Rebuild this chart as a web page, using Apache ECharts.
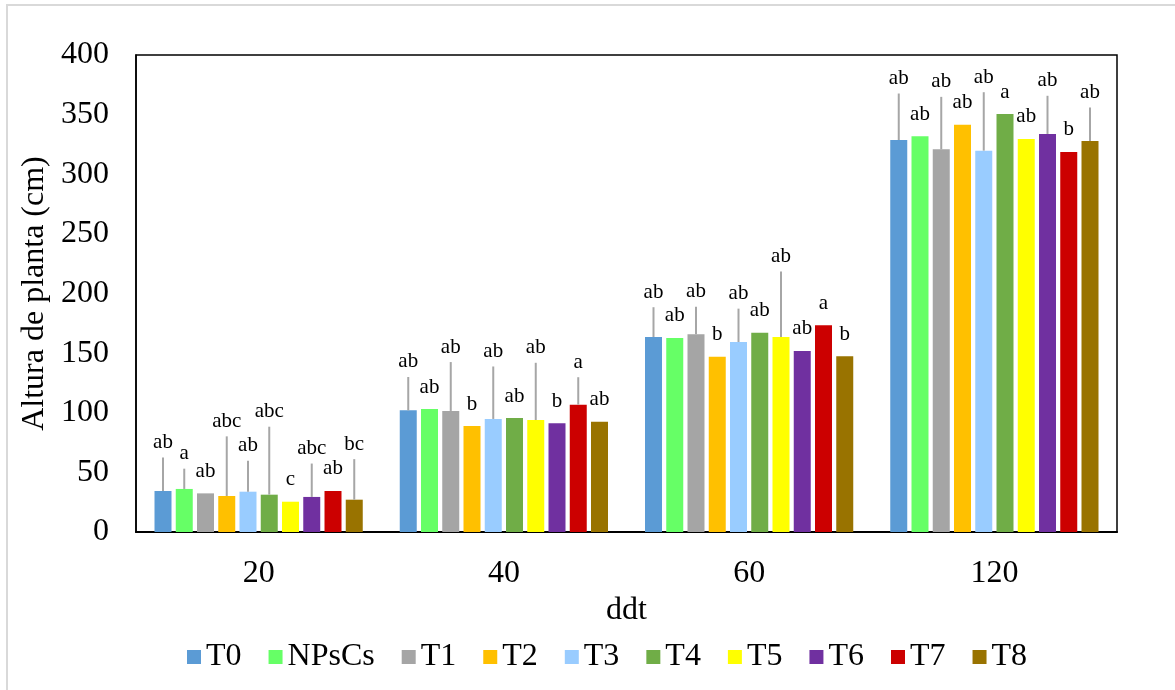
<!DOCTYPE html>
<html>
<head>
<meta charset="utf-8">
<script src="https://cdn.jsdelivr.net/npm/echarts@6/dist/echarts.min.js"></script>
<style>
  html, body { margin: 0; padding: 0; background: #fff; }
  #chart { width: 1175px; height: 690px; }
</style>
</head>
<body>
<div id="chart"></div>
<script>
// ddt categories
var categories = ['20', '40', '60', '120'];
var names = ['T0', 'NPsCs', 'T1', 'T2', 'T3', 'T4', 'T5', 'T6', 'T7', 'T8'];
var colors = ['#5B9BD5', '#66FF66', '#A5A5A5', '#FFC000', '#99CCFF', '#70AD47', '#FFFF00', '#7030A0', '#CC0000', '#997300'];

// plant height means (cm)
var T0    = [34.4, 102.0, 163.5, 328.7];
var NPsCs = [36.1, 103.1, 162.7, 331.8];
var T1    = [32.4, 101.5, 165.8, 320.9];
var T2    = [30.2, 88.9, 147.0, 341.6];
var T3    = [33.8, 94.8, 159.3, 319.8];
var T4    = [31.3, 95.6, 167.1, 350.5];
var T5    = [25.4, 93.9, 163.5, 329.6];
var T6    = [29.4, 91.1, 151.8, 333.8];
var T7    = [34.4, 106.8, 173.3, 318.7];
var T8    = [27.1, 92.5, 147.3, 327.9];

// upper error bar length
var errT0    = [28, 28, 25, 39];
var errNPsCs = [17, 0, 0, 0];
var errT1    = [0, 41, 23, 44];
var errT2    = [50, 0, 0, 0];
var errT3    = [26, 44, 28, 49];
var errT4    = [57, 0, 0, 0];
var errT5    = [0, 48, 55, 0];
var errT6    = [28, 0, 0, 32];
var errT7    = [0, 23, 0, 0];
var errT8    = [34, 0, 0, 28];

// significance letters
var sigT0    = ['ab', 'ab', 'ab', 'ab'];
var sigNPsCs = ['a', 'ab', 'ab', 'ab'];
var sigT1    = ['ab', 'ab', 'ab', 'ab'];
var sigT2    = ['abc', 'b', 'b', 'ab'];
var sigT3    = ['ab', 'ab', 'ab', 'ab'];
var sigT4    = ['abc', 'ab', 'ab', 'a'];
var sigT5    = ['c', 'ab', 'ab', 'ab'];
var sigT6    = ['abc', 'b', 'ab', 'ab'];
var sigT7    = ['ab', 'a', 'a', 'b'];
var sigT8    = ['bc', 'ab', 'b', 'ab'];

var yTicks = { min: 0, max: 400, interval: 50 };

var means = [T0, NPsCs, T1, T2, T3, T4, T5, T6, T7, T8];
var errs = [errT0, errNPsCs, errT1, errT2, errT3, errT4, errT5, errT6, errT7, errT8];
var sigs = [sigT0, sigNPsCs, sigT1, sigT2, sigT3, sigT4, sigT5, sigT6, sigT7, sigT8];

var FONT = 'Liberation Serif';
var barW = 17;
var barGapRatio = 0.25;
var period = barW * (1 + barGapRatio);

var series = [];
names.forEach(function (n, i) {
  series.push({
    name: n,
    type: 'bar',
    barWidth: barW,
    barGap: '25%',
    itemStyle: { color: colors[i] },
    data: means[i]
  });
});

names.forEach(function (n, i) {
  var offset = (i - (names.length - 1) / 2) * period;
  series.push({
    name: 'err_' + n,
    type: 'custom',
    z: 5,
    silent: true,
    data: means[i].map(function (v, k) { return [k, v, errs[i][k]]; }),
    renderItem: function (params, api) {
      var k = api.value(0), m = api.value(1), e = api.value(2);
      var base = api.coord([k, m]);
      var top = api.coord([k, m + e]);
      var x = base[0] + offset;
      var children = [];
      if (e > 0) {
        children.push({
          type: 'line',
          shape: { x1: x, y1: base[1], x2: x, y2: top[1] },
          style: { stroke: '#A6A6A6', lineWidth: 2 }
        });
      }
      var ly = e > 0 ? top[1] - 15 : base[1] - 22;
      children.push({
        type: 'text',
        style: {
          x: x, y: ly,
          text: sigs[i][k],
          fill: '#000',
          font: '21px "' + FONT + '"',
          align: 'center',
          verticalAlign: 'middle'
        }
      });
      return { type: 'group', children: children };
    }
  });
});

var chart = echarts.init(document.getElementById('chart'));
chart.setOption({
  animation: false,
  backgroundColor: '#fff',
  textStyle: { fontFamily: FONT },
  graphic: [{
    type: 'rect',
    shape: { x: 7, y: 5, width: 1200, height: 720 },
    style: { fill: 'none', stroke: '#D9D9D9', lineWidth: 2 },
    silent: true
  }],
  grid: {
    left: 136, right: 58, top: 55, bottom: 158,
    show: true, borderColor: '#000', borderWidth: 1.5
  },
  legend: {
    data: names,
    bottom: 12,
    left: 182,
    itemWidth: 14,
    itemHeight: 14,
    itemGap: 27,
    icon: 'rect',
    textStyle: { fontFamily: FONT, fontSize: 32, color: '#000' }
  },
  xAxis: {
    type: 'category',
    data: categories,
    name: 'ddt',
    nameLocation: 'middle',
    nameGap: 63,
    nameTextStyle: { fontFamily: FONT, fontSize: 32, color: '#000' },
    axisLine: { lineStyle: { color: '#000', width: 2 } },
    axisTick: { show: false },
    axisLabel: { fontFamily: FONT, fontSize: 32, color: '#000', margin: 26 }
  },
  yAxis: {
    type: 'value',
    min: yTicks.min, max: yTicks.max, interval: yTicks.interval,
    name: 'Altura de planta (cm)',
    nameLocation: 'middle',
    nameGap: 80,
    nameRotate: 90,
    nameTextStyle: { fontFamily: FONT, fontSize: 32, color: '#000' },
    axisLine: { show: true, lineStyle: { color: '#000', width: 1.5 } },
    axisTick: { show: false },
    splitLine: { show: false },
    axisLabel: { fontFamily: FONT, fontSize: 32, color: '#000', margin: 27 }
  },
  series: series
});
</script>
</body>
</html>
